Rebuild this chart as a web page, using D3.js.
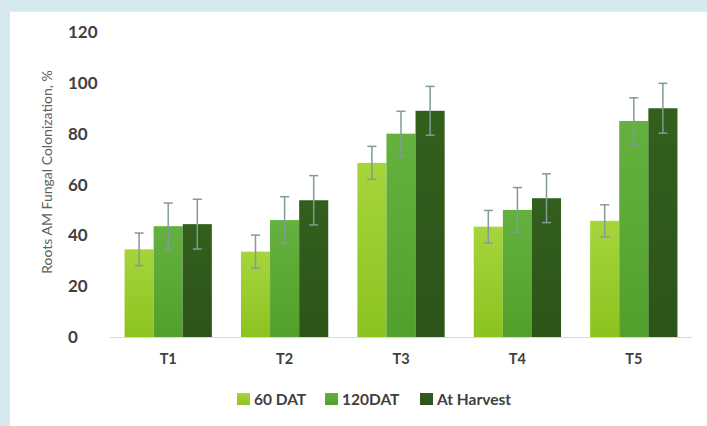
<!DOCTYPE html>
<html>
<head>
<meta charset="utf-8">
<script src="https://cdn.jsdelivr.net/npm/d3@7/dist/d3.min.js"></script>
<style>
  html, body { margin: 0; padding: 0; background: #d5e9ef; }
  svg { display: block; }
</style>
</head>
<body>
<svg id="chart" width="707" height="426"></svg>
<script>
// Treatments and sampling stages
const categories = ["T1", "T2", "T3", "T4", "T5"];
const seriesNames = ["60 DAT", "120DAT", "At Harvest"];

// Mean root colonization (%) per stage, in treatment order
const dat60 = [34.5, 33.6, 68.5, 43.4, 45.7];
const dat120 = [43.6, 46.0, 80.0, 50.0, 85.0];
const atHarvest = [44.4, 53.8, 89.0, 54.6, 90.0];

// Error bar half-widths
const err60 = [6.4, 6.5, 6.5, 6.4, 6.3];
const err120 = [9.1, 9.2, 8.8, 8.8, 9.1];
const errHarvest = [9.8, 9.7, 9.6, 9.6, 9.8];

const yTicks = [0, 20, 40, 60, 80, 100, 120];

const seriesValues = [dat60, dat120, atHarvest];
const seriesErrors = [err60, err120, errHarvest];
const colors = [
  ["#a6d53c", "#8cc320"],
  ["#64b13f", "#52a02c"],
  ["#335f1d", "#2c5418"]
];

const svg = d3.select("#chart");

// white panel
svg.append("rect").attr("x", 10).attr("y", 11).attr("width", 697).attr("height", 415).attr("fill", "#ffffff");
svg.append("line").attr("x1", 10).attr("x2", 707).attr("y1", 11.5).attr("y2", 11.5)
  .attr("stroke", "#e6eef0").attr("stroke-width", 1);

const defs = svg.append("defs");
colors.forEach((c, i) => {
  const g = defs.append("linearGradient").attr("id", "grad" + i)
    .attr("x1", 0).attr("y1", 0).attr("x2", 0).attr("y2", 1);
  g.append("stop").attr("offset", "0%").attr("stop-color", c[0]);
  g.append("stop").attr("offset", "100%").attr("stop-color", c[1]);
});

const x0 = d3.scaleBand().domain(categories).range([110, 692]).padding(0);
const x1 = d3.scaleBand().domain(seriesNames).range([0, x0.bandwidth()]).paddingInner(0).paddingOuter(0.5);
const y = d3.scaleLinear().domain([0, 120]).range([337, 32]);

// y tick labels
svg.append("g").selectAll("text").data(yTicks).join("text")
  .attr("x", 68).attr("y", d => y(d)).attr("dy", "0.36em")
  .attr("font-family", "Lato, sans-serif").attr("font-weight", "bold")
  .attr("font-size", 17).attr("fill", "#404040")
  .text(d => d);

// y axis title
svg.append("text")
  .attr("transform", "translate(52," + 172 + ") rotate(-90)")
  .attr("text-anchor", "middle")
  .attr("font-family", "Lato, sans-serif").attr("font-size", 14)
  .attr("fill", "#5f5f5f")
  .text("Roots AM Fungal Colonization, %");

// baseline
svg.append("line").attr("x1", 110).attr("x2", 692).attr("y1", y(0) + 0.5).attr("y2", y(0) + 0.5)
  .attr("stroke", "#d9d9d9").attr("stroke-width", 1);

// bars
const groups = svg.append("g").selectAll("g").data(categories).join("g")
  .attr("transform", d => "translate(" + x0(d) + ",0)");

groups.each(function(cat, ci) {
  const g = d3.select(this);
  seriesNames.forEach((s, si) => {
    const v = seriesValues[si][ci];
    g.append("rect")
      .attr("x", x1(s)).attr("y", y(v))
      .attr("width", x1.bandwidth()).attr("height", y(0) - y(v))
      .attr("fill", "url(#grad" + si + ")");
  });
  seriesNames.forEach((s, si) => {
    const v = seriesValues[si][ci];
    const e = seriesErrors[si][ci];
    const cx = x1(s) + x1.bandwidth() / 2;
    const eb = g.append("g").attr("stroke", "#819b97").attr("stroke-width", 1.5);
    eb.append("line").attr("x1", cx).attr("x2", cx).attr("y1", y(v + e)).attr("y2", y(v - e));
    eb.append("line").attr("x1", cx - 4.5).attr("x2", cx + 4.5).attr("y1", y(v + e)).attr("y2", y(v + e));
    eb.append("line").attr("x1", cx - 4.5).attr("x2", cx + 4.5).attr("y1", y(v - e)).attr("y2", y(v - e));
  });
});

// category labels
svg.append("g").selectAll("text").data(categories).join("text")
  .attr("x", d => x0(d) + x0.bandwidth() / 2).attr("y", 364)
  .attr("text-anchor", "middle")
  .attr("font-family", "Lato, sans-serif").attr("font-weight", "bold")
  .attr("font-size", 14.5).attr("fill", "#404040")
  .text(d => d);

// legend
const legendX = [237, 325, 420];
const legend = svg.append("g").selectAll("g").data(seriesNames).join("g")
  .attr("transform", (d, i) => "translate(" + legendX[i] + ",393)");
legend.append("rect").attr("width", 13).attr("height", 12)
  .attr("fill", (d, i) => "url(#grad" + i + ")");
legend.append("text").attr("x", 17).attr("y", 11.5)
  .attr("font-family", "Lato, sans-serif").attr("font-weight", "bold")
  .attr("font-size", 15.5).attr("fill", "#404040")
  .text(d => d);
</script>
</body>
</html>
